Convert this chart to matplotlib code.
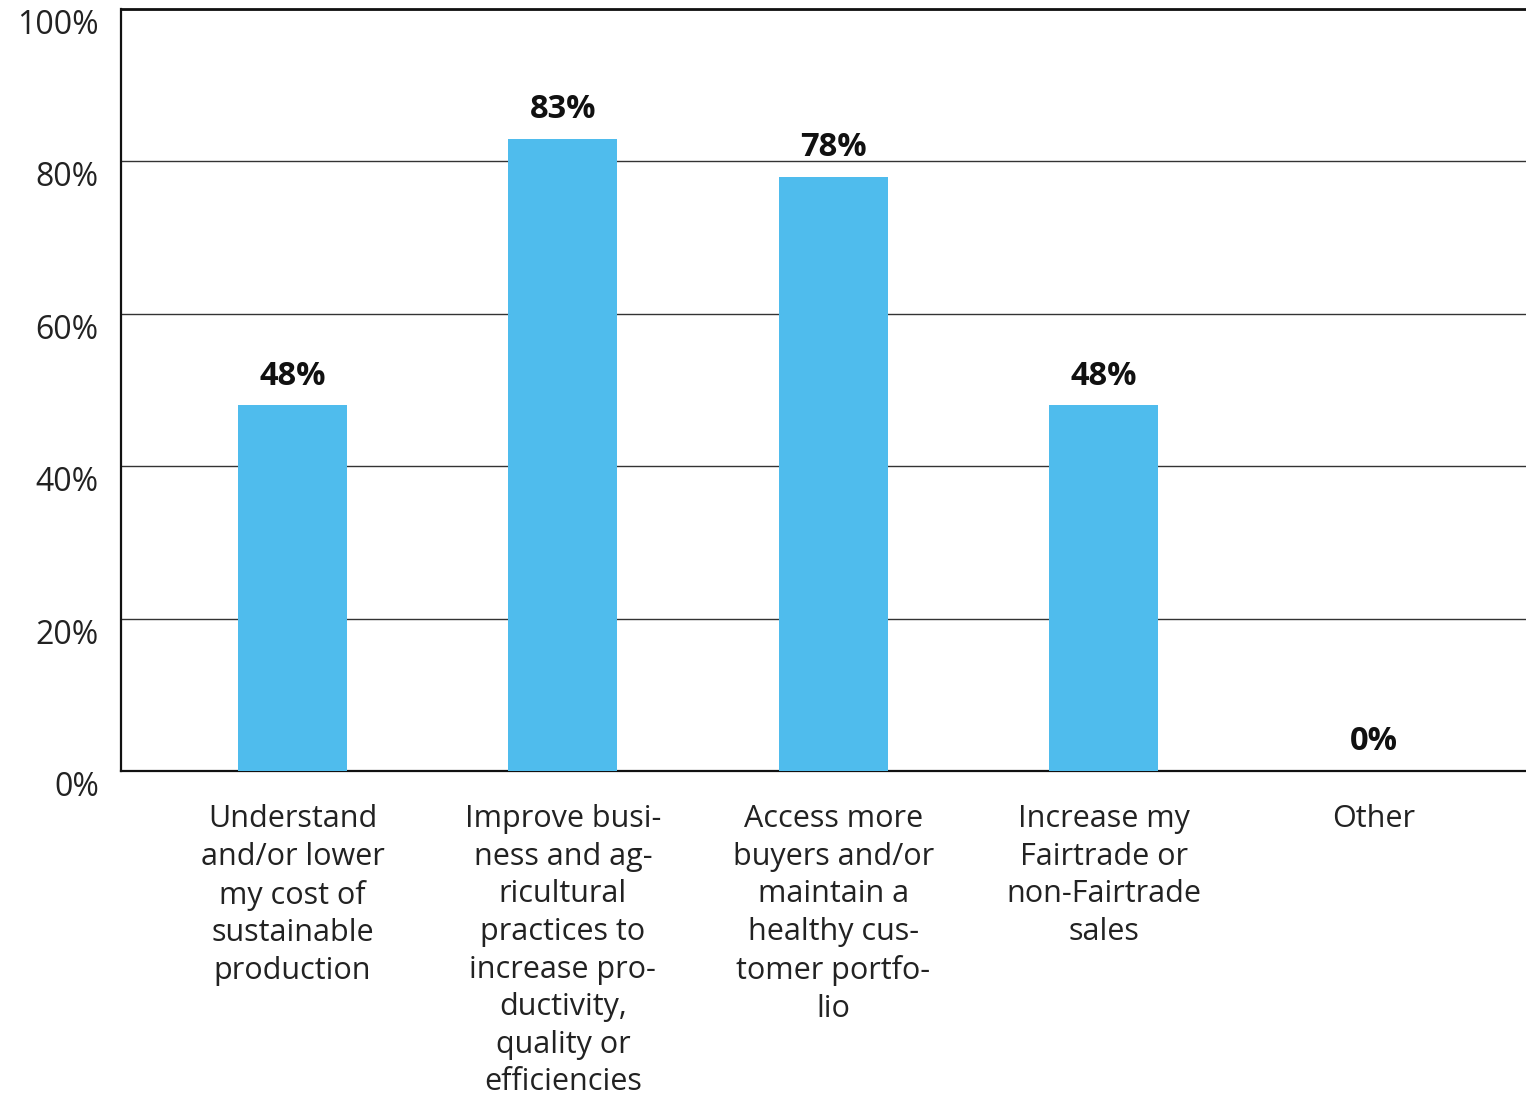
import numpy as np
import matplotlib.pyplot as plt
from matplotlib.ticker import FixedLocator

plt.rcParams['font.family'] = ['Open Sans', 'DejaVu Sans']

CATEGORIES = [
    "Understand\nand/or lower\nmy cost of\nsustainable\nproduction",
    "Improve busi-\nness and ag-\nricultural\npractices to\nincrease pro-\nductivity,\nquality or\nefficiencies",
    "Access more\nbuyers and/or\nmaintain a\nhealthy cus-\ntomer portfo-\nlio",
    "Increase my\nFairtrade or\nnon-Fairtrade\nsales",
    "Other",
]
VALUES = [48, 83, 78, 48, 0]
Y_TICKS = [0, 20, 40, 60, 80, 100]

BAR_COLOR = '#4FBCED'

fig = plt.figure(figsize=(15.26, 10.97), dpi=100)
ax = fig.add_axes([0.0793, 0.2972, 0.9207, 0.6946])

x = np.arange(len(CATEGORIES))
ax.bar(x, VALUES, width=0.403, color=BAR_COLOR, zorder=3)

for xi, v in zip(x, VALUES):
    ax.annotate(f"{v}%", (xi, v), xytext=(0, 9), textcoords='offset points',
                ha='center', va='bottom', fontsize=23.5, fontweight='bold',
                color='#111111', zorder=4)

ax.set_xlim(-0.634, 4.562)
ax.set_ylim(0, 100)
ax.yaxis.set_major_locator(FixedLocator(Y_TICKS))
ax.set_yticklabels([f"{t}%" for t in Y_TICKS], fontsize=23, color='#222222')
for lab in ax.get_yticklabels():
    lab.set_verticalalignment('top')
ax.tick_params(axis='y', length=0, pad=16)
ax.set_xticks(x)
ax.set_xticklabels(CATEGORIES, fontsize=22, color='#222222', linespacing=1.33)
ax.tick_params(axis='x', length=0, pad=24)

ax.grid(axis='y', color='#333333', linewidth=1.0, zorder=0)
ax.spines['right'].set_visible(False)
ax.spines['top'].set_linewidth(2.0)
ax.spines['left'].set_linewidth(1.6)
ax.spines['bottom'].set_linewidth(1.6)
for s in ax.spines.values():
    s.set_color('#111111')

fig.savefig("out.png", dpi=100)
